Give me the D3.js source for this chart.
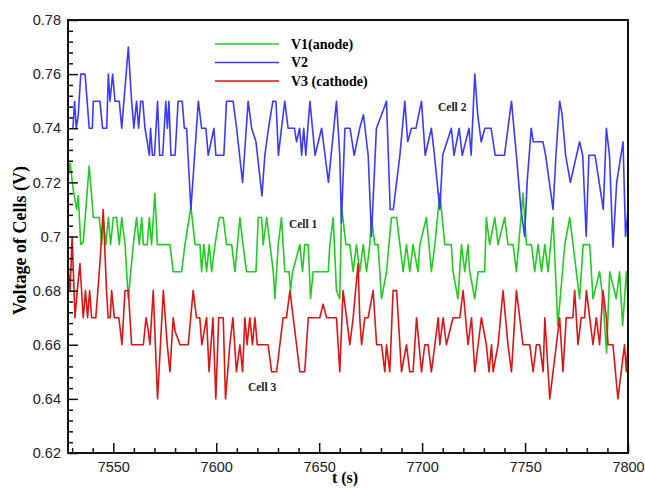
<!DOCTYPE html>
<html lang="en">
<head>
<meta charset="UTF-8">
<title>Voltage of Cells</title>
<script src="https://cdn.jsdelivr.net/npm/d3@7"></script>
<style>
    body {margin: 0; background: #fff;}
    svg {display: block;}
    .tick text {font-family: "Liberation Sans", Arial, sans-serif; font-size: 14.5px; fill: #222;}
    .serif {font-family: "Liberation Serif", "Times New Roman", serif;}
</style>
</head>
<body>
<svg id="chart"></svg>
<script>
    // DATA: breakpoints [t (s), voltage (V)]
    const v1 = [ // V1 (anode), green, cell 1
        [7528,0.722],[7529,0.727],[7530.6,0.717],[7532.2,0.71],[7533,0.715],[7534.2,0.697],[7535.4,0.698],
        [7538.3,0.726],[7540.3,0.707],[7543.2,0.707],[7544.4,0.697],[7545.1,0.707],[7546.4,0.697],[7547.6,0.707],
        [7548.7,0.697],[7550,0.707],[7551.6,0.707],[7552.9,0.697],[7554.1,0.707],[7555.7,0.697],[7557.3,0.677],
        [7559.7,0.697],[7561.3,0.707],[7562.6,0.697],[7563.8,0.707],[7564.6,0.697],[7566.5,0.697],[7567.5,0.707],
        [7568.6,0.697],[7570.2,0.716],[7571.4,0.697],[7577.5,0.697],[7579.1,0.687],[7583.2,0.687],[7584.8,0.697],
        [7587.7,0.711],[7589.7,0.697],[7592.1,0.697],[7592.9,0.687],[7594,0.697],[7595.3,0.687],[7596.6,0.697],
        [7597.8,0.687],[7599.4,0.697],[7601.5,0.707],[7603.4,0.707],[7605,0.697],[7607.5,0.697],[7609.1,0.687],
        [7611.5,0.707],[7613,0.697],[7614.7,0.687],[7619.3,0.687],[7620.4,0.707],[7622,0.707],[7622.8,0.697],
        [7624.5,0.707],[7626.1,0.697],[7627.7,0.687],[7628.5,0.677],[7630.1,0.697],[7631.7,0.707],[7633.3,0.687],
        [7635.4,0.687],[7636.1,0.68],[7637.1,0.687],[7640.6,0.697],[7641.9,0.687],[7643,0.697],[7644.7,0.697],
        [7645.8,0.677],[7647.1,0.687],[7654.4,0.687],[7655.2,0.697],[7656.8,0.707],[7658.4,0.68],[7660,0.677],
        [7660.9,0.711],[7663,0.697],[7664.9,0.697],[7666.5,0.687],[7668.1,0.697],[7669.7,0.687],[7671.4,0.697],
        [7673,0.687],[7674.6,0.697],[7675.4,0.707],[7677,0.697],[7678.6,0.697],[7680.3,0.677],[7682.7,0.687],
        [7685.1,0.707],[7687.6,0.707],[7689.2,0.697],[7690.8,0.687],[7692.4,0.697],[7694,0.687],[7695.6,0.697],
        [7698,0.687],[7698.9,0.697],[7702.1,0.707],[7704.5,0.687],[7706.2,0.697],[7708.6,0.716],[7711,0.697],
        [7714.2,0.697],[7715,0.687],[7717.4,0.677],[7719.1,0.697],[7720.7,0.687],[7722.3,0.697],[7723.1,0.687],
        [7725.6,0.677],[7727.2,0.687],[7730.4,0.687],[7731.2,0.707],[7732.8,0.697],[7735.3,0.707],[7736.9,0.697],
        [7740.1,0.707],[7741.7,0.697],[7744.2,0.697],[7745.8,0.687],[7749,0.716],[7750.7,0.697],[7753.1,0.697],
        [7754.7,0.687],[7756.3,0.697],[7758,0.687],[7759.6,0.697],[7761.2,0.687],[7763.6,0.707],[7765.9,0.667],
        [7769.3,0.697],[7771.7,0.707],[7773.3,0.697],[7774.9,0.687],[7776.5,0.677],[7778.2,0.697],[7781.4,0.697],
        [7783,0.677],[7786.2,0.687],[7787.8,0.677],[7789.6,0.657],[7791.1,0.687],[7794.3,0.677],[7795.9,0.687],
        [7797.4,0.667],[7799.2,0.687],[7800,0.677]
    ];
    const v2 = [ // V2, blue, cell 2
        [7530.4,0.74],[7531.2,0.75],[7532,0.74],[7533,0.745],[7534.2,0.76],[7536.3,0.76],[7538.3,0.74],[7539.8,0.74],
        [7540.3,0.75],[7543.5,0.75],[7544.8,0.74],[7546.8,0.74],[7547.6,0.76],[7548.4,0.75],[7549.7,0.76],[7550.8,0.75],
        [7552.9,0.75],[7554.1,0.74],[7557.3,0.77],[7558.9,0.75],[7560,0.74],[7561.3,0.75],[7562.3,0.74],[7563.3,0.75],
        [7564.3,0.75],[7565.4,0.74],[7566.5,0.735],[7567.5,0.73],[7568.1,0.74],[7569,0.73],[7570,0.73],[7571.5,0.75],
        [7572.5,0.73],[7574,0.73],[7575.5,0.75],[7576.3,0.74],[7577,0.75],[7578,0.73],[7580,0.73],[7581.5,0.75],
        [7583.5,0.75],[7584.5,0.74],[7585.6,0.74],[7587.7,0.71],[7591.3,0.75],[7592.9,0.74],[7595,0.74],[7596.1,0.73],
        [7598.9,0.74],[7599.8,0.73],[7603.7,0.73],[7605,0.75],[7608.2,0.75],[7609.9,0.74],[7612.8,0.72],[7615.5,0.75],
        [7617.2,0.74],[7619.3,0.735],[7622.2,0.715],[7623.6,0.73],[7625.4,0.74],[7627.5,0.75],[7629,0.75],[7630.2,0.73],
        [7631.7,0.74],[7633.3,0.75],[7634.9,0.74],[7638,0.74],[7639,0.735],[7640.5,0.74],[7641.5,0.73],[7642.5,0.74],
        [7643.5,0.73],[7645.5,0.75],[7648,0.73],[7651.2,0.74],[7654.5,0.72],[7658.4,0.75],[7660,0.73],[7660.8,0.705],
        [7662.5,0.74],[7665,0.74],[7667,0.73],[7669.7,0.74],[7671.5,0.745],[7673.8,0.73],[7675.4,0.70],[7677.8,0.74],
        [7680.3,0.745],[7682.7,0.75],[7684.5,0.71],[7686,0.71],[7687.6,0.72],[7689.2,0.73],[7691.6,0.75],[7693,0.735],
        [7694.8,0.74],[7697,0.74],[7699.7,0.75],[7701.5,0.73],[7704.5,0.74],[7706,0.73],[7708.6,0.71],[7710,0.73],
        [7714.2,0.74],[7715.5,0.73],[7718,0.74],[7719.5,0.73],[7722.8,0.74],[7723.8,0.73],[7725.6,0.76],[7727,0.745],
        [7728.7,0.735],[7730.5,0.74],[7733.5,0.74],[7735.5,0.73],[7740,0.73],[7743.4,0.75],[7745.8,0.73],[7748,0.71],
        [7749.8,0.70],[7751,0.72],[7753,0.74],[7754,0.735],[7758.7,0.735],[7760,0.73],[7763.6,0.71],[7765,0.73],
        [7766.8,0.75],[7768,0.745],[7769.7,0.73],[7772,0.72],[7776.5,0.735],[7778,0.73],[7779.7,0.70],[7781,0.73],
        [7784,0.73],[7786,0.72],[7788,0.71],[7789.5,0.74],[7791,0.73],[7792.7,0.696],[7794.5,0.72],[7797.6,0.735],
        [7798.8,0.70],[7800,0.71]
    ];
    const v3 = [ // V3 (cathode), red, cell 3
        [7528,0.689],[7529,0.68],[7530,0.70],[7531.4,0.67],[7532.5,0.68],[7533.8,0.69],[7535.4,0.67],[7536.5,0.68],
        [7537.5,0.67],[7538.5,0.68],[7539.5,0.67],[7541.5,0.67],[7543.5,0.69],[7545.1,0.71],[7546.7,0.68],[7547.5,0.67],
        [7548.5,0.67],[7549.2,0.68],[7550.5,0.67],[7552.7,0.67],[7554.2,0.66],[7555.7,0.68],[7557.3,0.68],[7558.9,0.66],
        [7564.6,0.66],[7565.9,0.67],[7567,0.665],[7567.8,0.66],[7569.4,0.68],[7571.5,0.64],[7574.3,0.68],[7576.2,0.66],
        [7577.5,0.65],[7579.1,0.67],[7580,0.665],[7582.4,0.66],[7586.4,0.66],[7588.8,0.68],[7590.4,0.67],[7592,0.67],
        [7593,0.66],[7595.3,0.67],[7596.5,0.65],[7598.4,0.67],[7599.8,0.64],[7601.2,0.67],[7603.4,0.67],[7604.5,0.64],
        [7606.6,0.66],[7608.1,0.67],[7609.8,0.65],[7611.5,0.66],[7612.8,0.65],[7613.9,0.67],[7615,0.66],[7616.3,0.67],
        [7617.6,0.66],[7618.8,0.67],[7619.9,0.66],[7625.2,0.66],[7626.9,0.65],[7629.3,0.65],[7630.9,0.66],[7632.5,0.67],
        [7634.1,0.67],[7635.8,0.68],[7637.4,0.67],[7639,0.66],[7640.6,0.65],[7643,0.65],[7644.7,0.67],[7650.3,0.67],
        [7651.9,0.675],[7653.6,0.67],[7658.4,0.67],[7660,0.65],[7661.6,0.68],[7663.3,0.67],[7664.9,0.66],[7666.5,0.67],
        [7668.9,0.69],[7669.7,0.67],[7670.6,0.66],[7672.2,0.67],[7673.8,0.67],[7676.2,0.68],[7677.9,0.66],[7680.3,0.66],
        [7681.9,0.65],[7682.7,0.66],[7684.3,0.65],[7685.9,0.68],[7687.6,0.68],[7690,0.65],[7692.4,0.66],[7694,0.65],
        [7695.6,0.65],[7697.3,0.67],[7699.7,0.65],[7701.3,0.66],[7702.9,0.66],[7704.5,0.65],[7706.2,0.66],[7707.8,0.67],
        [7708.6,0.66],[7710.2,0.67],[7711.8,0.66],[7715,0.67],[7718.3,0.67],[7719.9,0.68],[7722.3,0.66],[7724,0.67],
        [7725.6,0.65],[7727.2,0.66],[7728.8,0.67],[7731.2,0.66],[7732.5,0.65],[7733.7,0.66],[7734.5,0.65],[7736.9,0.66],
        [7739.3,0.68],[7741.7,0.66],[7743.4,0.65],[7745.8,0.68],[7749,0.66],[7752.3,0.66],[7753.9,0.65],[7755.5,0.66],
        [7757.1,0.66],[7758.8,0.65],[7759.6,0.67],[7762,0.64],[7765.2,0.66],[7766.8,0.67],[7768.4,0.65],[7770,0.67],
        [7773.2,0.67],[7774.1,0.68],[7775.7,0.66],[7777.3,0.67],[7778.9,0.67],[7779.8,0.68],[7781.4,0.67],[7783,0.66],
        [7784.6,0.67],[7786.2,0.66],[7787.8,0.68],[7789.5,0.67],[7790.3,0.66],[7792.7,0.66],[7795.1,0.64],[7796.7,0.65],
        [7798.3,0.66],[7799.2,0.65],[7800,0.66]
    ];

    const series = [
        {name: "V1(anode)", values: v1, color: "#22cc22"},
        {name: "V2", values: v2, color: "#3b3bff"},
        {name: "V3 (cathode)", values: v3, color: "#dd1515"}
    ];
    const drawOrder = [0, 2, 1];

    const xTicks = [7550, 7600, 7650, 7700, 7750, 7800];
    const yTicks = [0.62, 0.64, 0.66, 0.68, 0.7, 0.72, 0.74, 0.76, 0.78];
    const cellLabels = [
        {text: "Cell 1", t: 7635.3, v: 0.7031},
        {text: "Cell 2", t: 7707.7, v: 0.7464},
        {text: "Cell 3", t: 7615.4, v: 0.6429}
    ];

    // Dimensions
    const dim = {width: 645, height: 488};
    const plot = {left: 68, right: 628, top: 20, bottom: 453};

    const svg = d3.select("#chart").attr("width", dim.width).attr("height", dim.height);

    const x = d3.scaleLinear().domain([7528, 7800]).range([plot.left, plot.right]);
    const y = d3.scaleLinear().domain([0.62, 0.78]).range([plot.bottom, plot.top]);

    // Lines
    const line = d3.line().x(d => x(d[0])).y(d => y(d[1]));
    const lines = svg.append("g");
    drawOrder.forEach(i => {
        lines.append("path")
             .datum(series[i].values)
             .attr("fill", "none")
             .attr("stroke", series[i].color)
             .attr("stroke-width", 1.6)
             .attr("stroke-linejoin", "round")
             .attr("d", line);
    });

    // Axes: minor ticks, then major ticks with labels
    const xMinor = d3.range(7530, 7801, 10).filter(t => t % 50 !== 0);
    const yMinor = d3.range(0, 41).map(i => 0.62 + i * 0.004).filter((v, i) => i % 5 !== 0);

    svg.append("g").attr("transform", `translate(0,${plot.bottom})`)
       .call(d3.axisBottom(x).tickValues(xMinor).tickSize(-5).tickFormat(""))
       .call(g => g.select(".domain").remove());
    svg.append("g").attr("transform", `translate(${plot.left},0)`)
       .call(d3.axisLeft(y).tickValues(yMinor).tickSize(-5).tickFormat(""))
       .call(g => g.select(".domain").remove());

    svg.append("g").attr("transform", `translate(0,${plot.bottom})`)
       .call(d3.axisBottom(x).tickValues(xTicks).tickSize(-10).tickPadding(6).tickFormat(d3.format("d")))
       .call(g => g.select(".domain").remove())
       .call(g => g.selectAll(".tick text").attr("dy", "0.9em"));
    svg.append("g").attr("transform", `translate(${plot.left},0)`)
       .call(d3.axisLeft(y).tickValues(yTicks).tickSize(-10).tickPadding(7).tickFormat(d => d3.format("")(+d.toFixed(2))))
       .call(g => g.select(".domain").remove());

    svg.selectAll(".tick line").attr("stroke", "#111").attr("stroke-width", 1.5);

    // Frame
    svg.append("rect")
       .attr("x", plot.left).attr("y", plot.top)
       .attr("width", plot.right - plot.left).attr("height", plot.bottom - plot.top)
       .attr("fill", "none").attr("stroke", "#111").attr("stroke-width", 2);

    // Axis titles
    svg.append("text").attr("class", "serif")
       .attr("x", 345).attr("y", 483)
       .attr("text-anchor", "middle").attr("font-weight", "bold").attr("font-size", 16)
       .text("t (s)");
    svg.append("text").attr("class", "serif")
       .attr("transform", `translate(26,${(plot.top + plot.bottom) / 2 + 4}) rotate(-90)`)
       .attr("text-anchor", "middle").attr("font-weight", "bold").attr("font-size", 18)
       .text("Voltage of Cells (V)");

    // Legend
    const legend = svg.append("g").attr("transform", "translate(215,44)");
    series.forEach((s, i) => {
        const row = legend.append("g").attr("transform", `translate(0,${i * 18.5})`);
        row.append("line").attr("x1", 0).attr("x2", 64)
           .attr("stroke", s.color).attr("stroke-width", 1.6);
        row.append("text").attr("class", "serif")
           .attr("x", 76).attr("dy", "0.35em")
           .attr("font-weight", "bold").attr("font-size", 14)
           .text(s.name);
    });

    // Cell annotations
    svg.append("g").selectAll("text")
       .data(cellLabels)
       .join("text").attr("class", "serif")
          .attr("x", d => x(d.t)).attr("y", d => y(d.v))
          .attr("font-size", 11.5).attr("font-weight", "bold").attr("fill", "#222")
          .text(d => d.text);
</script>
</body>
</html>
